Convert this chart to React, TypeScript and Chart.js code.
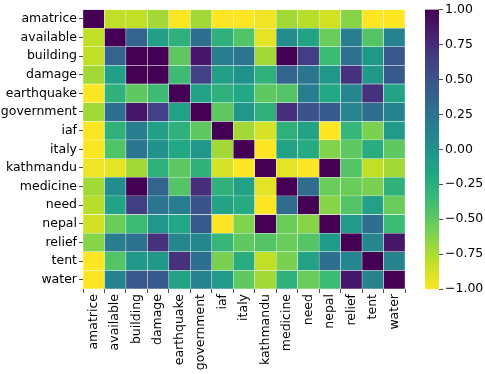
import React, { useEffect, useRef } from "react";
import { Chart, registerables } from "chart.js";

Chart.register(...registerables);

const labels = [
  "amatrice", "available", "building", "damage", "earthquake", "government", "iaf",
  "italy", "kathmandu", "medicine", "need", "nepal", "relief", "tent", "water",
];

const rowAmatrice = [1, -0.81, -0.81, -0.72, -1, -0.72, -1, -1, -0.96, -0.72, -0.78, -0.86, -0.64, -1, -1];
const rowAvailable = [-0.81, 1, 0.36, -0.12, -0.28, 0.28, -0.28, -0.45, -0.92, 0.04, -0.16, -0.54, 0.16, -0.46, 0.12];
const rowBuilding = [-0.81, 0.36, 1, 1, -0.5, 0.88, 0.16, 0.22, -0.72, 1, 0.64, -0.36, 0.25, -0.06, 0.46];
const rowDamage = [-0.72, -0.12, 1, 1, -0.36, 0.62, -0.12, 0, -0.28, 0.36, 0.22, -0.04, 0.72, -0.06, 0.44];
const rowEarthquake = [-1, -0.28, -0.5, -0.36, 1, -0.16, -0.28, -0.2, -0.5, -0.46, 0.16, -0.2, 0.08, 0.72, -0.16];
const rowGovernment = [-0.72, 0.28, 0.88, 0.62, -0.16, 1, -0.5, -0.04, -0.28, 0.74, 0.48, 0.44, 0.08, 0.28, 0.12];
const rowIaf = [-1, -0.28, 0.16, -0.12, -0.28, -0.5, 1, -0.72, -0.88, -0.28, -0.16, -1, -0.32, -0.6, -0.08];
const rowItaly = [-1, -0.45, 0.22, 0, -0.2, -0.04, -0.72, 1, -1, -0.14, -0.22, -0.62, -0.5, -0.24, -0.5];
const rowKathmandu = [-0.96, -0.92, -0.72, -0.28, -0.5, -0.28, -0.88, -1, 1, -0.92, -1, 1, -0.46, -0.81, -0.72];
const rowMedicine = [-0.72, 0.04, 1, 0.36, -0.46, 0.74, -0.28, -0.14, -0.92, 1, 0.3, -0.54, -0.54, -0.6, -0.28];
const rowNeed = [-0.78, -0.16, 0.64, 0.22, 0.16, 0.48, -0.16, -0.22, -1, 0.3, 1, -0.64, -0.46, -0.14, -0.54];
const rowNepal = [-0.86, -0.54, -0.36, -0.04, -0.2, 0.44, -1, -0.62, 1, -0.54, -0.64, 1, -0.08, 0.28, -0.36];
const rowRelief = [-0.64, 0.16, 0.25, 0.72, 0.08, 0.08, -0.32, -0.5, -0.46, -0.54, -0.46, -0.08, 1, 0.08, 0.88];
const rowTent = [-1, -0.46, -0.06, -0.06, 0.72, 0.28, -0.6, -0.24, -0.81, -0.6, -0.14, 0.28, 0.08, 1, 0.12];
const rowWater = [-1, 0.12, 0.46, 0.44, -0.16, 0.12, -0.08, -0.5, -0.72, -0.28, -0.54, -0.36, 0.88, 0.12, 1];

const matrix = [
  rowAmatrice, rowAvailable, rowBuilding, rowDamage, rowEarthquake, rowGovernment, rowIaf,
  rowItaly, rowKathmandu, rowMedicine, rowNeed, rowNepal, rowRelief, rowTent, rowWater,
];

const colorbarRange = [-1, 1];
const colorbarStep = 0.25;

const VIRIDIS = [
  "#440154", "#482475", "#414487", "#355f8d", "#2a788e", "#21918c",
  "#22a884", "#44bf70", "#7ad151", "#bddf26", "#fde725",
];

function hexToRgb(h: string) {
  return [parseInt(h.slice(1, 3), 16), parseInt(h.slice(3, 5), 16), parseInt(h.slice(5, 7), 16)];
}

function viridis(t: number) {
  const x = Math.max(0, Math.min(1, t)) * (VIRIDIS.length - 1);
  const i = Math.min(Math.floor(x), VIRIDIS.length - 2);
  const f = x - i;
  const a = hexToRgb(VIRIDIS[i]);
  const b = hexToRgb(VIRIDIS[i + 1]);
  const c = a.map((v, k) => Math.round(v + (b[k] - v) * f));
  return `rgb(${c[0]},${c[1]},${c[2]})`;
}

// viridis_r from -1 to 1
function colorFor(v: number) {
  return viridis((1 - v) / 2);
}

const FONT = { family: "'DejaVu Sans', sans-serif", size: 12.5 };

export default function App() {
  const mainRef = useRef<HTMLCanvasElement | null>(null);
  const barRef = useRef<HTMLCanvasElement | null>(null);

  useEffect(() => {
    Chart.defaults.font.family = FONT.family;
    Chart.defaults.color = "#000";

    const datasets = matrix.map((row, r) => ({
      label: labels[r],
      data: row.map(() => [r, r + 1]),
      backgroundColor: row.map((v) => colorFor(v)),
      borderColor: "rgba(255,255,255,0.75)",
      borderWidth: 0.5,
      borderSkipped: false as const,
      barPercentage: 1,
      categoryPercentage: 1,
      grouped: false,
    }));

    const main = new Chart(mainRef.current!, {
      type: "bar",
      data: { labels, datasets: datasets as any },
      options: {
        responsive: false,
        animation: false,
        layout: { padding: { top: 9, right: 80, left: 0, bottom: 0 } },
        plugins: { legend: { display: false }, tooltip: { enabled: false } },
        scales: {
          x: {
            type: "category",
            offset: true,
            grid: { display: true, drawOnChartArea: false, tickLength: 4, color: "#222", lineWidth: 0.8 },
            border: { display: false },
            ticks: {
              autoSkip: false,
              minRotation: 90,
              maxRotation: 90,
              padding: 1,
              color: "#000",
              font: FONT,
            },
            afterFit: (scale: any) => {
              scale.height = 85;
            },
          },
          y: {
            type: "linear",
            min: 0,
            max: labels.length,
            reverse: true,
            grid: { display: true, drawOnChartArea: false, tickLength: 4, color: "#222", lineWidth: 0.8 },
            border: { display: false },
            afterBuildTicks: (scale: any) => {
              scale.ticks = labels.map((_, i) => ({ value: i + 0.5 }));
            },
            ticks: {
              autoSkip: false,
              padding: 2,
              color: "#000",
              font: FONT,
              callback: (value: any) => labels[Math.floor(Number(value))],
            },
            afterFit: (scale: any) => {
              scale.width = 83;
            },
          },
        },
      },
    });

    const bar = new Chart(barRef.current!, {
      type: "bar",
      data: {
        labels: [""],
        datasets: [
          {
            data: [colorbarRange as any],
            backgroundColor: (ctx: any) => {
              const chart = ctx.chart;
              const area = chart.chartArea;
              if (!area) return "#21918c";
              const g = chart.ctx.createLinearGradient(0, area.bottom, 0, area.top);
              const n = 40;
              for (let i = 0; i <= n; i++) {
                const p = i / n;
                g.addColorStop(p, viridis(1 - p));
              }
              return g;
            },
            borderWidth: 0,
            barPercentage: 1,
            categoryPercentage: 1,
          },
        ],
      },
      options: {
        responsive: false,
        animation: false,
        layout: { padding: { top: 9, left: 5, right: 0, bottom: 85 } },
        plugins: { legend: { display: false }, tooltip: { enabled: false } },
        scales: {
          x: { display: false },
          y: {
            position: "right",
            min: colorbarRange[0],
            max: colorbarRange[1],
            grid: { display: true, drawOnChartArea: false, tickLength: 4, color: "#222", lineWidth: 0.8 },
            border: { display: false },
            ticks: {
              stepSize: colorbarStep,
              padding: 2,
              color: "#000",
              font: FONT,
              callback: (value: any) => Number(value).toFixed(2).replace("-", "\u2212"),
            },
            afterFit: (scale: any) => {
              scale.width = 46;
            },
          },
        },
      },
    });

    return () => {
      main.destroy();
      bar.destroy();
    };
  }, []);

  return (
    <div style={{ position: "absolute", left: 0, top: 0, width: 485, height: 374, background: "#fff" }}>
      <canvas ref={mainRef} width={485} height={374} style={{ position: "absolute", left: 0, top: 0 }} />
      <canvas ref={barRef} width={65} height={374} style={{ position: "absolute", left: 420, top: 0 }} />
    </div>
  );
}
